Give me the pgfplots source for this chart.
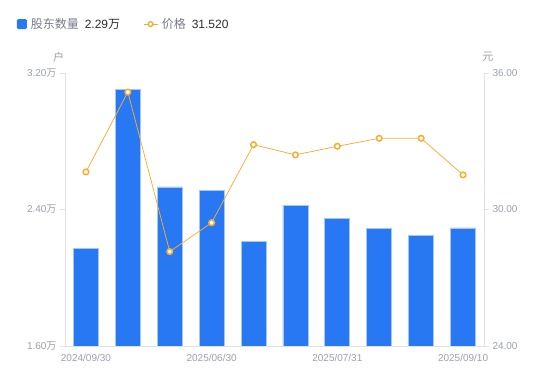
\documentclass[border=0pt]{standalone}
\usepackage{pgfplots}
\pgfplotsset{compat=1.18}
\usepackage{fontspec}
\setmainfont{Liberation Sans}
\newfontfamily\cjk{Noto Sans CJK SC}
\definecolor{barblue}{RGB}{39,120,242}
\definecolor{baredge}{RGB}{165,198,250}
\definecolor{lineorange}{RGB}{248,172,48}
\definecolor{axgray}{RGB}{225,225,230}
\definecolor{tickgray}{RGB}{155,158,172}
\definecolor{leggray}{RGB}{120,123,138}
\definecolor{darktext}{RGB}{45,45,50}
\begin{document}
\begin{tikzpicture}
\path[use as bounding box] (0,0) rectangle (550bp,381bp);
\pgfplotsset{
 common/.style={
  at={(65bp,35bp)}, anchor=south west,
  scale only axis, width=419bp, height=273bp,
  xmin=-0.5, xmax=9.5,
  axis line style={draw=axgray, line width=0.8bp, -},
  tick label style={font=\fontsize{10bp}{12bp}\selectfont, text=tickgray},
  tick align=outside, major tick length=5bp,
  ytick style={draw=axgray, line width=0.8bp},
  xtick style={draw=none},
 }
}
\begin{axis}[common,
  clip mode=individual,
  axis y line*=left, axis x line*=bottom,
  ymin=1.6, ymax=3.2, ytick={1.6,2.4,3.2},
  yticklabels={1.60{\cjk 万},2.40{\cjk 万},3.20{\cjk 万}},
  xtick={0,3,6,9},
  xticklabels={2024/09/30,2025/06/30,2025/07/31,2025/09/10},
  legend style={at={(axis description cs:-0.1146,1.179)}, anchor=west, draw=none, fill=none,
    inner sep=0pt, outer sep=0pt, legend columns=2,
    font=\fontsize{12bp}{14bp}\selectfont,
    /tikz/every even column/.append style={column sep=21bp}},
  legend cell align=left,
]
\addplot[ybar, bar width=25bp, fill=barblue, draw=baredge, line width=0.8bp,
  legend image code/.code={\fill[barblue, rounded corners=1bp] (0bp,-4.5bp) rectangle (9bp,4.5bp); \path (11bp,0bp);}]
  coordinates {(0,2.173) (1,3.105) (2,2.532) (3,2.510) (4,2.215) (5,2.426) (6,2.350) (7,2.290) (8,2.247) (9,2.292)};
\addlegendentry{{\cjk\color{leggray}股东数量}\hspace{6bp}{\color{darktext}2.29{\cjk 万}}}
\addlegendimage{lineorange, legend image code/.code={\draw[lineorange, line width=0.9bp] (0bp,0bp) -- (14bp,0bp); \draw[lineorange, fill=white, line width=1.4bp] (7bp,0bp) circle (2.4bp); \path (16bp,0bp);}}
\addlegendentry{{\cjk\color{leggray}价格}\hspace{6bp}{\color{darktext}31.520}}
\node[font=\cjk\fontsize{11bp}{13bp}\selectfont, text=tickgray] at (axis description cs:-0.015,1.0586) {户};
\node[font=\cjk\fontsize{11bp}{13bp}\selectfont, text=tickgray] at (axis description cs:1.0095,1.0586) {元};
\end{axis}
\begin{axis}[common,
  axis y line*=right, axis x line=none,
  ymin=24, ymax=36, ytick={24,30,36},
  yticklabels={24.00,30.00,36.00},
  xtick=\empty,
]
\addplot[color=lineorange, line width=0.75bp, mark=*, mark size=2.8bp,
  mark options={fill=white, draw=lineorange, line width=1.5bp}]
  coordinates {(0,31.65) (1,35.16) (2,28.15) (3,29.42) (4,32.85) (5,32.40) (6,32.78) (7,33.13) (8,33.13) (9,31.52)};
\end{axis}
\end{tikzpicture}
\end{document}
